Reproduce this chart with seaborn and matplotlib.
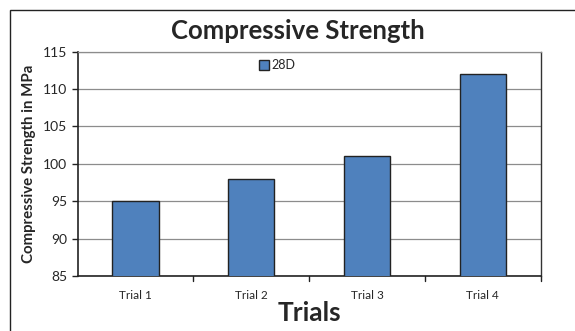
import matplotlib
matplotlib.use("Agg")
import matplotlib.pyplot as plt
import seaborn as sns
import pandas as pd
from matplotlib.patches import Rectangle

trials = ["Trial 1", "Trial 2", "Trial 3", "Trial 4"]
strength_28d = [95, 98, 101, 112]
y_ticks = [85, 90, 95, 100, 105, 110, 115]

sns.set_style("white")
plt.rcParams["font.family"] = ["Lato", "DejaVu Sans"]

df = pd.DataFrame({"Trial": trials, "Strength": strength_28d, "Age": "28D"})

W, H = 575, 331
fig = plt.figure(figsize=(W / 100, H / 100), dpi=100)
fig.patch.set_facecolor("white")

# outer chart frame
fig.patches.append(Rectangle((10 / W, -0.05), 1.2, 1 - 10 / H + 0.05,
                             transform=fig.transFigure, fill=False,
                             edgecolor="#222222", linewidth=1.0))

ax = fig.add_axes([77.7 / W, 1 - 276 / H, (540.7 - 77.7) / W, (276 - 51.7) / H])
sns.barplot(data=df, x="Trial", y="Strength", hue="Age", palette=["#4F81BD"],
            saturation=1, width=0.4, edgecolor="#222222", linewidth=1.0,
            ax=ax, zorder=3)

ax.set_ylim(85, 115)
ax.set_yticks(y_ticks)
ax.set_xlim(-0.5, 3.5)
ax.grid(axis="y", color="#8c8c8c", linewidth=0.9, zorder=0)
ax.set_axisbelow(True)

# category boundary ticks on the x axis
ax.set_xticks([0, 1, 2, 3])
ax.set_xticklabels(trials, fontsize=8.5)
ax.tick_params(axis="x", length=0, pad=10)
for b in [0.5, 1.5, 2.5, 3.5]:
    ax.plot([b, b], [0, -0.022], transform=ax.get_xaxis_transform(),
            color="#222222", linewidth=1.0, clip_on=False)
ax.tick_params(axis="y", length=4.5, width=1, color="#222222", labelsize=10, pad=3,
               direction="out", left=True)

for side in ["left", "bottom"]:
    ax.spines[side].set_color("#222222")
    ax.spines[side].set_linewidth(1.2)
ax.spines["right"].set_color("#333333")
ax.spines["right"].set_linewidth(1.0)
ax.spines["top"].set_color("#8c8c8c")
ax.spines["top"].set_linewidth(0.9)

ax.set_xlabel("Trials", fontsize=19, fontweight="bold", labelpad=0)
ax.set_ylabel("Compressive Strength in MPa", fontsize=10.8, fontweight="bold")
ax.yaxis.set_label_coords(-0.09, 0.5)

fig.text(298 / W, 1 - 31 / H, "Compressive Strength", ha="center", va="center",
         fontsize=18.5, fontweight="bold")

leg = ax.legend(loc="upper left", bbox_to_anchor=(0.375, 1.0), frameon=False,
                fontsize=9, handlelength=0.8, handleheight=0.8, handletextpad=0.2,
                borderaxespad=0.2)
for h in leg.legend_handles:
    h.set_edgecolor("#222222")

fig.savefig("out.png", dpi=100)
